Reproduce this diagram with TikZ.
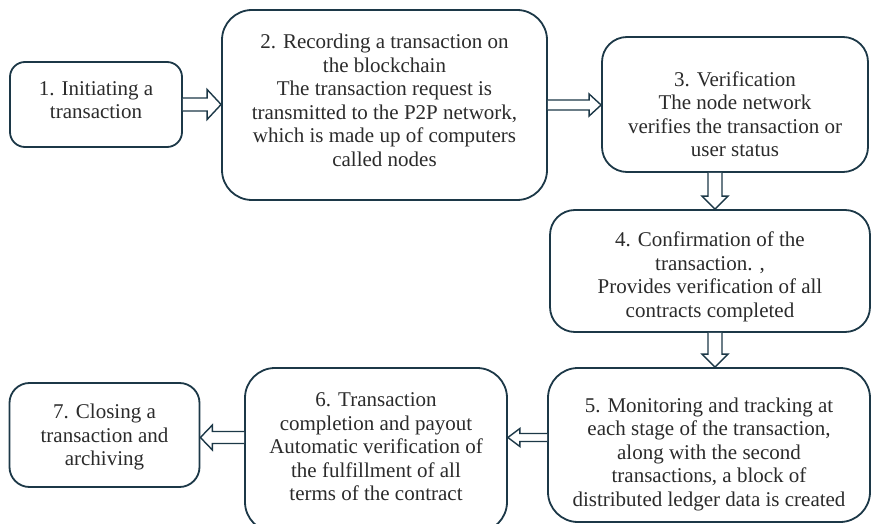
\documentclass[tikz,border=0pt]{standalone}
\usepackage{fontspec}
\setmainfont{Liberation Serif}
\usetikzlibrary{calc}
\definecolor{bordc}{HTML}{1C3847}
\definecolor{txtc}{HTML}{2B2B2B}
\tikzset{
  stepbox/.style={draw=bordc, line width=1.8pt, rectangle, inner sep=0pt, fill=white},
  steptext/.style={align=center, inner sep=0pt, text=txtc, font=\fontsize{21}{23.5}\selectfont},
  blk/.style={draw=bordc, line width=1.4pt, fill=white, line join=miter},
}
% horizontal block arrow: start, end, shaft half, head half, head length
\newcommand\hblk[5]{\draw[blk] let \p1=#1, \p2=#2, \n1={sign(\x2-\x1)} in
  (\x1,\y1+#3pt) -- (\x2-\n1*#5pt,\y1+#3pt) -- (\x2-\n1*#5pt,\y1+#4pt) -- (\x2,\y1)
  -- (\x2-\n1*#5pt,\y1-#4pt) -- (\x2-\n1*#5pt,\y1-#3pt) -- (\x1,\y1-#3pt);}
% vertical block arrow
\newcommand\vblk[5]{\draw[blk] let \p1=#1, \p2=#2, \n1={sign(\y2-\y1)} in
  (\x1+#3pt,\y1) -- (\x1+#3pt,\y2-\n1*#5pt) -- (\x1+#4pt,\y2-\n1*#5pt) -- (\x1,\y2)
  -- (\x1-#4pt,\y2-\n1*#5pt) -- (\x1-#3pt,\y2-\n1*#5pt) -- (\x1-#3pt,\y1);}
\begin{document}
\begin{tikzpicture}[x=1pt, y=-1pt]
\useasboundingbox (0,0) rectangle (871,524);
\clip (0,0) rectangle (871,524);
\fill[white] (0,0) rectangle (871,524);

% boxes
\node[stepbox, rounded corners=15pt, minimum width=172pt, minimum height=85pt] (b1) at (96,104.5) {};
\node[stepbox, rounded corners=30pt, minimum width=325pt, minimum height=190pt] (b2) at (384.5,105) {};
\node[stepbox, rounded corners=25pt, minimum width=266pt, minimum height=135pt] (b3) at (735,104.5) {};
\node[stepbox, rounded corners=25pt, minimum width=320pt, minimum height=122pt] (b4) at (710,271) {};
\node[stepbox, rounded corners=30pt, minimum width=322pt, minimum height=154pt] (b5) at (709,445) {};
\node[stepbox, rounded corners=30pt, minimum width=262pt, minimum height=164pt] (b6) at (376,450) {};
\node[stepbox, rounded corners=20pt, minimum width=190pt, minimum height=104pt] (b7) at (104.5,435) {};

% texts
\node[steptext] (t1) at (96,100) {1. Initiating a\\transaction};
\node[steptext] (t2) at (384.5,100.5) {2. Recording a transaction on\\the blockchain\\The transaction request is\\transmitted to the P2P network,\\which is made up of computers\\called nodes};
\node[steptext] (t3) at (735,114) {3. Verification\\The node network\\verifies the transaction or\\user status};
\node[steptext] (t4) at (710,277) {4. Confirmation of the\\transaction. ,\\Provides verification of all\\contracts completed};
\node[steptext] (t5) at (709,454) {5. Monitoring and tracking at\\each stage of the transaction,\\along with the second\\transactions, a block of\\distributed ledger data is created};
\node[steptext] (t6) at (376,447) {6. Transaction\\completion and payout\\Automatic verification of\\the fulfillment of all\\terms of the contract};
\node[steptext] (t7) at (104.5,437) {7. Closing a\\transaction and\\archiving};

% arrows
\hblk{(b1.east)}{(b2.west)}{6.5}{15}{14}
\hblk{(b2.east)}{(b3.west)}{5}{11}{12}
\vblk{($(b4.north |- b3.south)+(5,0)$)}{($(b4.north)+(5,0)$)}{7}{13}{13}
\vblk{($(b4.south)+(5,0)$)}{($(b5.north -| b4.south)+(5,0)$)}{7}{13}{13}
\hblk{($(b5.west |- b7.east)+(0,2.5)$)}{($(b6.east |- b7.east)+(0,2.5)$)}{4}{9}{12}
\hblk{($(b6.west |- b7.east)+(0,2.5)$)}{($(b7.east)+(0,2.5)$)}{6}{12.5}{12}
\end{tikzpicture}
\end{document}
